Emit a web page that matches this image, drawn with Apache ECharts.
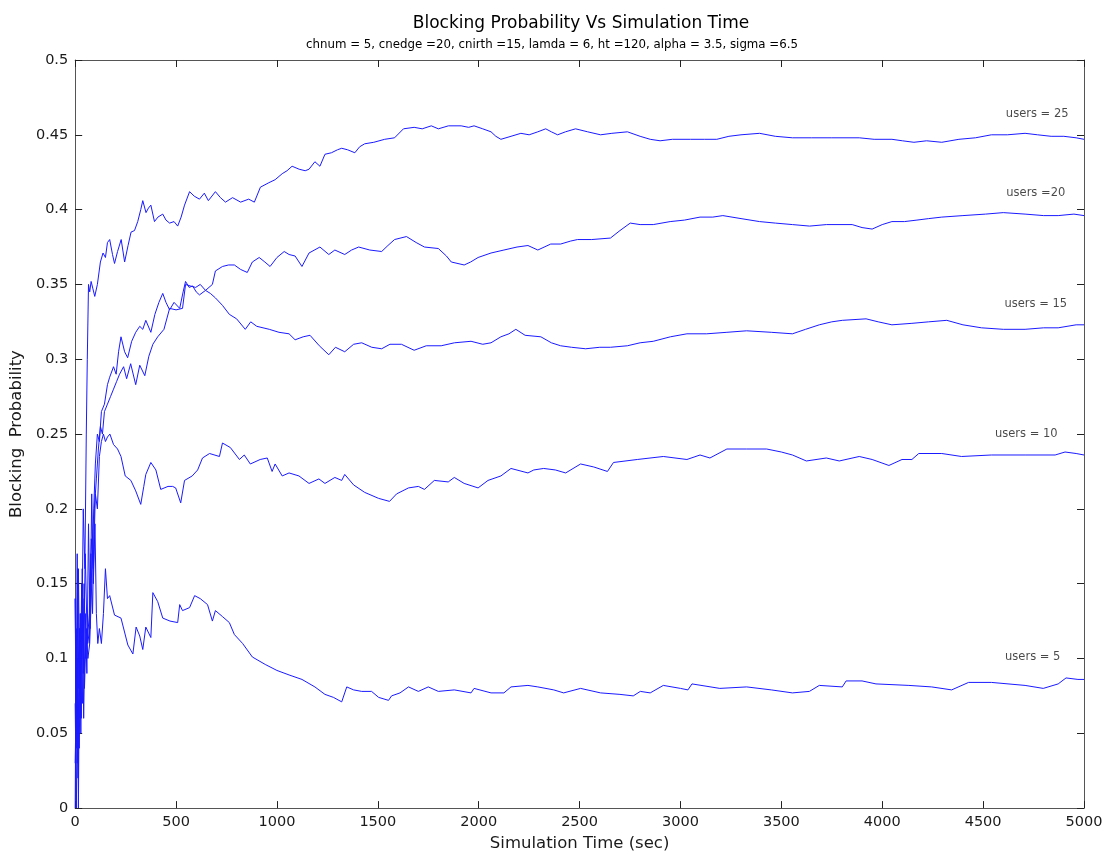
<!DOCTYPE html>
<html>
<head>
<meta charset="utf-8">
<script src="https://cdn.jsdelivr.net/npm/echarts@6/dist/echarts.min.js"></script>
<style>
  html, body { margin: 0; padding: 0; background: #fff; }
  #chart { width: 1108px; height: 857px; }
</style>
</head>
<body>
<div id="chart"></div>
<script>
// Simulation results: [time (sec), blocking probability]
const users5 = [[0,0.14],[5,0.04],[10,0.17],[16,0.0],[22,0.12],[28,0.05],[35,0.16],[42,0.06],[50,0.13],[58,0.09],[66,0.19],[74,0.12],[82,0.21],[90,0.15],[98,0.19],[105,0.13],[112,0.11],[120,0.12],[130,0.11],[140,0.13],[150,0.16],[160,0.14],[171,0.142],[195,0.129],[227,0.127],[261,0.109],[286,0.103],[302,0.121],[320,0.115],[335,0.106],[350,0.121],[375,0.114],[385,0.144],[409,0.138],[434,0.127],[470,0.125],[508,0.124],[518,0.136],[532,0.132],[567,0.134],[592,0.142],[620,0.140],[656,0.136],[680,0.125],[695,0.132],[730,0.128],[764,0.124],[789,0.116],[830,0.110],[878,0.101],[942,0.096],[1000,0.092],[1060,0.089],[1124,0.086],[1188,0.081],[1238,0.076],[1280,0.074],[1321,0.071],[1346,0.081],[1380,0.079],[1420,0.078],[1469,0.078],[1504,0.074],[1553,0.072],[1568,0.075],[1610,0.077],[1652,0.081],[1701,0.078],[1750,0.081],[1800,0.078],[1879,0.079],[1962,0.077],[1977,0.080],[2061,0.077],[2125,0.077],[2160,0.081],[2244,0.082],[2293,0.081],[2372,0.079],[2421,0.077],[2505,0.080],[2604,0.077],[2700,0.076],[2766,0.075],[2801,0.078],[2850,0.077],[2915,0.082],[3000,0.080],[3037,0.079],[3057,0.083],[3195,0.080],[3328,0.081],[3450,0.079],[3555,0.077],[3639,0.078],[3688,0.082],[3802,0.081],[3821,0.085],[3900,0.085],[3969,0.083],[4132,0.082],[4245,0.081],[4344,0.079],[4428,0.084],[4541,0.084],[4708,0.082],[4798,0.080],[4872,0.083],[4911,0.087],[4970,0.086],[5000,0.086]];

const users10 = [[0,0.0],[5,0.12],[10,0.03],[16,0.16],[24,0.06],[32,0.15],[40,0.09],[50,0.17],[60,0.11],[70,0.13],[80,0.18],[90,0.16],[100,0.21],[110,0.2],[120,0.235],[130,0.245],[140,0.25],[150,0.245],[160,0.248],[172,0.25],[190,0.243],[210,0.240],[227,0.235],[248,0.222],[276,0.219],[300,0.212],[325,0.203],[340,0.215],[350,0.223],[375,0.231],[400,0.226],[424,0.213],[460,0.215],[483,0.215],[498,0.214],[523,0.204],[542,0.219],[580,0.222],[607,0.226],[631,0.234],[666,0.237],[715,0.235],[730,0.244],[769,0.241],[814,0.233],[838,0.236],[868,0.230],[917,0.233],[952,0.234],[976,0.225],[991,0.230],[1026,0.222],[1060,0.224],[1109,0.222],[1159,0.217],[1208,0.220],[1238,0.217],[1287,0.221],[1321,0.219],[1336,0.223],[1380,0.216],[1435,0.211],[1504,0.207],[1558,0.205],[1593,0.210],[1652,0.214],[1701,0.215],[1731,0.213],[1780,0.219],[1849,0.218],[1879,0.221],[1928,0.217],[1997,0.214],[2046,0.219],[2110,0.222],[2160,0.227],[2244,0.224],[2273,0.226],[2322,0.227],[2380,0.226],[2431,0.224],[2505,0.230],[2570,0.228],[2638,0.225],[2668,0.231],[2786,0.233],[2915,0.235],[3032,0.233],[3097,0.236],[3146,0.234],[3230,0.240],[3328,0.240],[3427,0.240],[3500,0.238],[3555,0.236],[3624,0.232],[3723,0.234],[3787,0.232],[3886,0.235],[3950,0.233],[4033,0.229],[4098,0.233],[4147,0.233],[4181,0.237],[4295,0.237],[4393,0.235],[4541,0.236],[4708,0.236],[4857,0.236],[4906,0.238],[4961,0.237],[5000,0.236]];

const users15 = [[0,0.07],[6,0.0],[12,0.1],[20,0.04],[28,0.13],[36,0.07],[44,0.15],[52,0.1],[60,0.12],[70,0.11],[78,0.17],[86,0.13],[95,0.2],[105,0.22],[115,0.24],[125,0.255],[135,0.25],[145,0.265],[160,0.27],[175,0.275],[190,0.28],[205,0.285],[220,0.29],[240,0.295],[255,0.287],[275,0.297],[300,0.283],[320,0.296],[345,0.289],[365,0.302],[385,0.310],[409,0.315],[440,0.320],[468,0.334],[500,0.333],[532,0.334],[547,0.350],[570,0.349],[597,0.348],[620,0.350],[646,0.346],[670,0.344],[695,0.341],[730,0.336],[764,0.330],[800,0.327],[843,0.320],[870,0.325],[900,0.322],[962,0.320],[1010,0.318],[1060,0.317],[1090,0.313],[1130,0.315],[1164,0.316],[1210,0.309],[1257,0.303],[1290,0.308],[1336,0.305],[1380,0.310],[1420,0.311],[1470,0.308],[1519,0.307],[1560,0.310],[1617,0.310],[1680,0.306],[1740,0.309],[1814,0.309],[1880,0.311],[1962,0.312],[2020,0.310],[2061,0.311],[2110,0.315],[2150,0.317],[2184,0.320],[2230,0.316],[2308,0.315],[2360,0.311],[2406,0.309],[2460,0.308],[2530,0.307],[2600,0.308],[2653,0.308],[2737,0.309],[2800,0.311],[2865,0.312],[2950,0.315],[3032,0.317],[3130,0.317],[3230,0.318],[3328,0.319],[3450,0.318],[3555,0.317],[3620,0.320],[3688,0.323],[3750,0.325],[3802,0.326],[3920,0.327],[3980,0.325],[4048,0.323],[4147,0.324],[4230,0.325],[4320,0.326],[4400,0.323],[4492,0.321],[4600,0.320],[4708,0.320],[4800,0.321],[4872,0.321],[4961,0.323],[5000,0.323]];

const users20 = [[0,0.03],[7,0.09],[14,0.02],[22,0.12],[30,0.06],[38,0.14],[46,0.08],[55,0.12],[63,0.1],[72,0.11],[82,0.15],[92,0.2],[100,0.23],[110,0.25],[120,0.245],[130,0.265],[145,0.27],[160,0.283],[171,0.288],[190,0.295],[203,0.290],[215,0.305],[227,0.315],[245,0.305],[260,0.301],[280,0.312],[300,0.318],[320,0.322],[335,0.320],[350,0.326],[375,0.318],[395,0.330],[415,0.338],[434,0.344],[450,0.338],[468,0.333],[490,0.338],[518,0.334],[535,0.345],[547,0.352],[565,0.348],[582,0.349],[600,0.345],[616,0.343],[646,0.346],[680,0.350],[695,0.359],[730,0.362],[760,0.363],[789,0.363],[820,0.360],[853,0.358],[878,0.365],[912,0.368],[940,0.365],[966,0.362],[1000,0.368],[1036,0.372],[1060,0.370],[1090,0.369],[1124,0.362],[1159,0.371],[1213,0.375],[1257,0.370],[1287,0.373],[1336,0.370],[1370,0.373],[1405,0.375],[1460,0.373],[1519,0.372],[1550,0.376],[1583,0.380],[1642,0.382],[1690,0.378],[1731,0.375],[1800,0.374],[1840,0.369],[1864,0.365],[1928,0.363],[1960,0.365],[1997,0.368],[2061,0.371],[2125,0.373],[2190,0.375],[2244,0.376],[2293,0.373],[2357,0.377],[2406,0.377],[2456,0.379],[2490,0.380],[2560,0.380],[2653,0.381],[2700,0.386],[2751,0.391],[2800,0.390],[2865,0.390],[2949,0.392],[3020,0.393],[3097,0.395],[3160,0.395],[3210,0.396],[3300,0.394],[3392,0.392],[3470,0.391],[3555,0.390],[3640,0.389],[3723,0.390],[3851,0.390],[3900,0.388],[3950,0.387],[4000,0.390],[4048,0.392],[4110,0.392],[4172,0.393],[4230,0.394],[4295,0.395],[4400,0.396],[4512,0.397],[4600,0.398],[4708,0.397],[4800,0.396],[4872,0.396],[4950,0.397],[5000,0.396]];

const users25 = [[0,0.14],[6,0.05],[12,0.16],[18,0.08],[25,0.13],[32,0.1],[40,0.2],[48,0.16],[55,0.25],[60,0.3],[66,0.35],[72,0.345],[79,0.352],[88,0.347],[97,0.342],[110,0.35],[125,0.365],[138,0.371],[150,0.368],[160,0.378],[171,0.380],[185,0.37],[195,0.364],[210,0.372],[228,0.380],[245,0.365],[262,0.376],[277,0.385],[294,0.386],[310,0.392],[325,0.400],[335,0.406],[351,0.398],[363,0.401],[375,0.403],[393,0.392],[410,0.395],[434,0.397],[450,0.393],[468,0.391],[490,0.392],[508,0.389],[525,0.395],[542,0.403],[567,0.412],[590,0.409],[616,0.407],[640,0.411],[660,0.406],[695,0.412],[720,0.408],[745,0.405],[780,0.408],[820,0.405],[860,0.407],[888,0.405],[918,0.415],[960,0.418],[991,0.42],[1026,0.424],[1050,0.426],[1075,0.429],[1110,0.427],[1140,0.426],[1159,0.427],[1188,0.432],[1213,0.429],[1238,0.437],[1270,0.438],[1300,0.440],[1321,0.441],[1350,0.44],[1386,0.438],[1410,0.442],[1435,0.444],[1480,0.445],[1534,0.447],[1583,0.448],[1627,0.454],[1680,0.455],[1720,0.454],[1765,0.456],[1800,0.454],[1850,0.456],[1913,0.456],[1950,0.455],[1977,0.456],[2020,0.454],[2061,0.452],[2085,0.449],[2110,0.447],[2160,0.449],[2209,0.451],[2250,0.450],[2293,0.452],[2332,0.454],[2360,0.452],[2391,0.450],[2430,0.452],[2480,0.454],[2540,0.452],[2604,0.450],[2660,0.451],[2737,0.452],[2800,0.449],[2850,0.447],[2899,0.446],[2960,0.447],[3050,0.447],[3120,0.447],[3180,0.447],[3240,0.449],[3300,0.450],[3392,0.451],[3470,0.449],[3555,0.448],[3650,0.448],[3750,0.448],[3886,0.448],[3960,0.447],[4048,0.447],[4100,0.446],[4157,0.445],[4220,0.446],[4295,0.445],[4380,0.447],[4462,0.448],[4541,0.450],[4620,0.450],[4708,0.451],[4770,0.450],[4837,0.449],[4900,0.449],[4961,0.448],[5000,0.447]];

// Curve annotations: text and the (time, probability) point each is centred on
const noteTexts  = ['users = 25', 'users =20', 'users = 15', 'users = 10', 'users = 5'];
const noteTimes  = [4768, 4761, 4761, 4714, 4746];
const noteValues = [0.4636, 0.4113, 0.337, 0.2497, 0.1013];

const titleText = 'Blocking Probability Vs Simulation Time';
const subText = 'chnum = 5, cnedge =20, cnirth =15, lamda = 6, ht =120, alpha = 3.5, sigma =6.5';
const xName = 'Simulation Time (sec)';
const yName = 'Blocking  Probability';

const FONT = '"DejaVu Sans", "Liberation Sans", sans-serif';
const LINE = '#1a1aff';
const AXIS = '#555';
const TEXT = '#1a1a1a';

const chart = echarts.init(document.getElementById('chart'), null, { renderer: 'canvas' });

const lineSeries = [users5, users10, users15, users20, users25].map(function (d) {
  return {
    type: 'line', data: d, xAxisIndex: 0, yAxisIndex: 0,
    showSymbol: false, symbol: 'none', smooth: false,
    lineStyle: { color: LINE, width: 1 }, silent: true, animation: false
  };
});

const noteSeries = {
  type: 'scatter', xAxisIndex: 0, yAxisIndex: 0, symbolSize: 0, silent: true, animation: false,
  data: noteTexts.map(function (t, i) { return { value: [noteTimes[i], noteValues[i]], name: t }; }),
  label: {
    show: true, position: 'inside', formatter: '{b}',
    fontFamily: FONT, fontSize: 11.5, color: TEXT
  }
};

function axisCommon(extra) {
  return Object.assign({
    type: 'value',
    axisLine: { show: true, onZero: false, lineStyle: { color: AXIS, width: 1 } },
    axisTick: { show: true, inside: true, length: 7, lineStyle: { color: '#222', width: 1 } },
    splitLine: { show: false }
  }, extra);
}

chart.setOption({
  animation: false,
  backgroundColor: '#fff',
  title: [
    {
      text: titleText, left: 576, top: 10, textAlign: 'center',
      textStyle: { fontFamily: FONT, fontSize: 17, fontWeight: 'normal', color: '#000' }
    },
    {
      text: subText, left: 547, top: 34, textAlign: 'center',
      textStyle: { fontFamily: FONT, fontSize: 11.8, fontWeight: 'normal', color: '#000' }
    }
  ],
  grid: { left: 72, right: 24, top: 60, bottom: 42, containLabel: false },
  xAxis: [
    axisCommon({
      position: 'bottom', min: 0, max: 5000, interval: 500,
      name: xName, nameLocation: 'middle', nameGap: 22,
      nameTextStyle: { fontFamily: FONT, fontSize: 16.5, color: TEXT },
      axisLabel: { fontFamily: FONT, fontSize: 14.5, color: TEXT, margin: 7,
                   formatter: function (v) { return String(v); } }
    }),
    axisCommon({
      position: 'top', min: 0, max: 5000, interval: 500,
      axisLabel: { show: false }
    })
  ],
  yAxis: [
    axisCommon({
      position: 'left', min: 0, max: 0.5, interval: 0.05,
      name: yName, nameLocation: 'middle', nameGap: 40,
      nameTextStyle: { fontFamily: FONT, fontSize: 16.5, color: TEXT },
      axisLabel: { fontFamily: FONT, fontSize: 14.5, color: TEXT, margin: 7 }
    }),
    axisCommon({
      position: 'right', min: 0, max: 0.5, interval: 0.05,
      axisLabel: { show: false }
    })
  ],
  series: lineSeries.concat([noteSeries])
});
</script>
</body>
</html>
